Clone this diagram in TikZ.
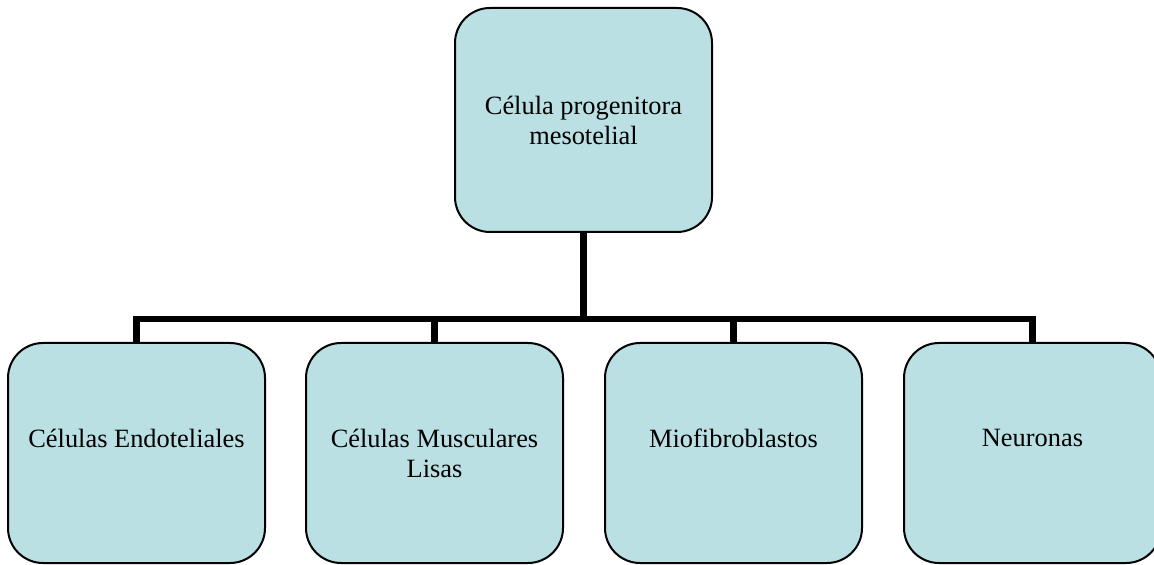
\documentclass[tikz,border=0pt]{standalone}
\usepackage{fontspec}
\setmainfont{Liberation Serif}
\usepackage{tikz}
\usetikzlibrary{positioning}
\definecolor{cellTeal}{RGB}{186,224,228}
\tikzset{
  cellbox/.style={draw=black, line width=1pt, rounded corners=17.5pt, fill=cellTeal,
    minimum width=128.5pt, minimum height=110pt, align=center,
    font=\fontsize{13.2}{15}\selectfont},
  rootbox/.style={cellbox, minimum height=112pt},
  branch/.style={draw=black, line width=3.1pt}
}
\begin{document}
\begin{tikzpicture}[x=0.5pt,y=-0.5pt]
    \useasboundingbox (0,0) rectangle (1154,565);
    \node[rootbox] (root) at (583.5,120) {Célula progenitora\\mesotelial};
    \node[cellbox] (c1) at (136.5,453) {Células Endoteliales\\~};
    \node[cellbox] (c2) at (434.5,453) {Células Musculares\\Lisas};
    \node[cellbox] (c3) at (733.5,453) {Miofibroblastos\\~};
    \node[cellbox] (c4) at (1032.5,453) {Neuronas\\~};
    \coordinate (hub) at (583.5,319);
    \draw[branch] (root.south) -- (hub);
    \draw[branch] (hub) -| (c1.north);
    \draw[branch] (hub) -| (c2.north);
    \draw[branch] (hub) -| (c3.north);
    \draw[branch] (hub) -| (c4.north);
  \end{tikzpicture}
\end{document}
